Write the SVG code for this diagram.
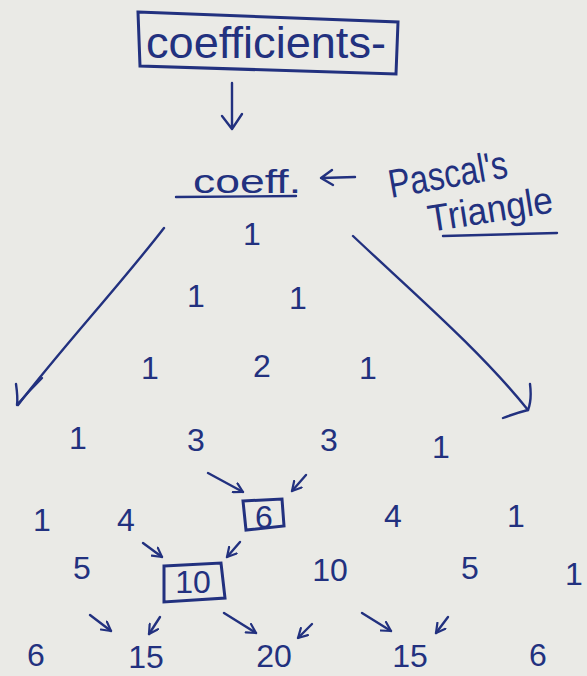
<svg xmlns="http://www.w3.org/2000/svg" width="587" height="676" viewBox="0 0 587 676">
  <defs>
    <style>
      .ink { fill: none; stroke: #22317f; stroke-width: 2.4; stroke-linecap: round; stroke-linejoin: round; }
      .t { fill: #22317f; font-family: "Liberation Sans", "DejaVu Sans", sans-serif; }
      .num { font-size: 32px; text-anchor: middle; }
      .box { fill: none; stroke: #22317f; stroke-width: 3; }
    </style>
    <marker id="head" viewBox="0 0 12 12" refX="10" refY="6" markerWidth="12" markerHeight="12" markerUnits="userSpaceOnUse" orient="auto">
      <path d="M1,1 L10,6 L1,11" fill="none" stroke="#22317f" stroke-width="2.2" stroke-linecap="round" stroke-linejoin="round"/>
    </marker>
  </defs>

  <!-- paper -->
  <rect width="587" height="676" fill="#eaeae6"/>

  <!-- title box -->
  <g id="coefficients">
    <path class="box" d="M138,12 L398,22 L396,74 L140,66 Z"/>
    <text class="t" x="146" y="58" font-size="44" textLength="240" lengthAdjust="spacingAndGlyphs">coefficients-</text>
  </g>

  <g id="coeff">
    <text class="t" x="193" y="193" font-size="33" textLength="108" lengthAdjust="spacingAndGlyphs">coeff.</text>
    <path class="ink" d="M176,197 L296,196"/>
  </g>

  <g id="pascal-label">
    <text class="t" x="391" y="198" font-size="40" textLength="120" lengthAdjust="spacingAndGlyphs" transform="rotate(-10 391 198)">Pascal's</text>
    <text class="t" x="430" y="232" font-size="38" textLength="126" lengthAdjust="spacingAndGlyphs" transform="rotate(-9 430 232)">Triangle</text>
    <path class="ink" d="M443,236 L557,233"/>
  </g>

  <!-- triangle rows -->
  <g id="row0"><text class="t num" x="252" y="245">1</text></g>
  <g id="row1">
    <text class="t num" x="196" y="307">1</text>
    <text class="t num" x="298" y="309">1</text>
  </g>
  <g id="row2">
    <text class="t num" x="150" y="379">1</text>
    <text class="t num" x="262" y="377">2</text>
    <text class="t num" x="368" y="379">1</text>
  </g>
  <g id="row3">
    <text class="t num" x="78" y="449">1</text>
    <text class="t num" x="196" y="451">3</text>
    <text class="t num" x="329" y="451">3</text>
    <text class="t num" x="441" y="458">1</text>
  </g>
  <g id="row4">
    <text class="t num" x="42" y="531">1</text>
    <text class="t num" x="126" y="531">4</text>
    <g id="six">
      <path class="box" d="M243,501 L282,499 L284,526 L246,530 Z"/>
      <text class="t num" x="264" y="528">6</text>
    </g>
    <text class="t num" x="393" y="527">4</text>
    <text class="t num" x="516" y="527">1</text>
  </g>
  <g id="row5">
    <text class="t num" x="82" y="579">5</text>
    <g id="ten">
      <path class="box" d="M164,566 L221,563 L225,598 L164,602 Z"/>
      <text class="t num" x="193" y="593">10</text>
    </g>
    <text class="t num" x="330" y="581">10</text>
    <text class="t num" x="470" y="579">5</text>
    <text class="t num" x="574" y="585">1</text>
  </g>
  <g id="row6">
    <text class="t num" x="36" y="666">6</text>
    <text class="t num" x="146" y="668">15</text>
    <text class="t num" x="274" y="667">20</text>
    <text class="t num" x="410" y="667">15</text>
    <text class="t num" x="538" y="666">6</text>
  </g>

  <!-- connectors -->
  <g id="connectors">
    <path class="ink" d="M232,83 L232,128 M222,116 L232,129 L242,114"/>
    <path class="ink" d="M355,177 L322,178 M332,170 L321,178 L333,185"/>
    <!-- left side arrow -->
    <path class="ink" d="M164,228 C120,285 60,350 18,405"/>
    <path class="ink" d="M16,384 Q18,398 17,405 Q28,392 42,378"/>
    <!-- right side arrow -->
    <path class="ink" d="M353,236 C410,290 480,350 528,410"/>
    <path class="ink" d="M530,384 Q532,400 528,410 Q516,413 503,418"/>
    <!-- small arrows -->
    <path class="ink" d="M208,473 L243,492" marker-end="url(#head)"/>
    <path class="ink" d="M306,475 L292,491" marker-end="url(#head)"/>
    <path class="ink" d="M143,543 L162,557" marker-end="url(#head)"/>
    <path class="ink" d="M240,542 L227,557" marker-end="url(#head)"/>
    <path class="ink" d="M90,615 L111,631" marker-end="url(#head)"/>
    <path class="ink" d="M160,617 L149,634" marker-end="url(#head)"/>
    <path class="ink" d="M224,613 L256,633" marker-end="url(#head)"/>
    <path class="ink" d="M312,624 L298,638" marker-end="url(#head)"/>
    <path class="ink" d="M362,613 L391,631" marker-end="url(#head)"/>
    <path class="ink" d="M448,617 L436,633" marker-end="url(#head)"/>
  </g>
</svg>
